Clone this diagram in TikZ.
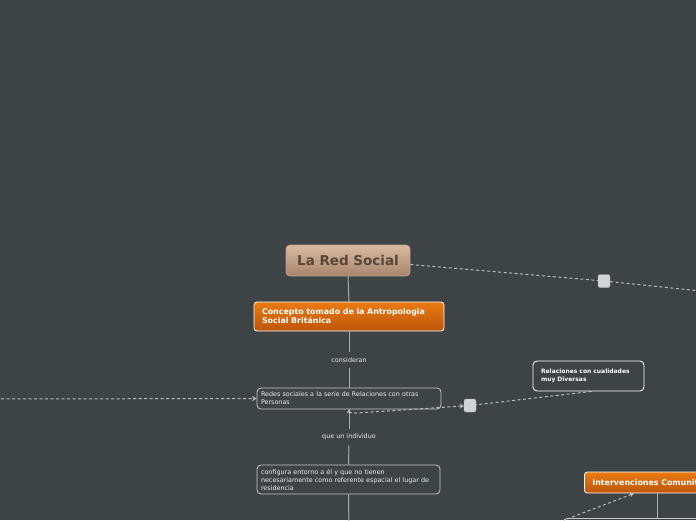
\documentclass[tikz,border=0pt]{standalone}
\usepackage{fontspec}
\setmainfont{DejaVu Sans}
\usetikzlibrary{calc,arrows.meta}
\definecolor{bg}{RGB}{62,67,69}
\definecolor{roottop}{RGB}{218,186,162}
\definecolor{rootbot}{RGB}{168,133,108}
\definecolor{rootborder}{RGB}{190,160,138}
\definecolor{roottext}{RGB}{88,70,56}
\definecolor{otop}{RGB}{234,122,18}
\definecolor{obot}{RGB}{190,86,10}
\definecolor{boxline}{RGB}{200,200,200}
\definecolor{txt}{RGB}{236,236,236}
\definecolor{linecol}{RGB}{170,172,174}
\definecolor{dashcol}{RGB}{185,187,189}
\definecolor{handlefill}{RGB}{210,212,214}
\tikzset{
  rootbox/.style={draw=rootborder, line width=0.8pt, rounded corners=4pt,
    top color=roottop, bottom color=rootbot, minimum width=124pt, minimum height=31pt,
    inner sep=0pt, font=\bfseries\fontsize{13.5}{16}\selectfont, text=roottext},
  orangebox/.style={draw=white, line width=0.8pt, rounded corners=3pt,
    top color=otop, bottom color=obot, text=white, align=left,
    font=\bfseries\fontsize{7.9}{9}\selectfont, inner xsep=8pt, inner ysep=0pt},
  plainbox/.style={draw=boxline, line width=0.8pt, rounded corners=4pt, text=txt,
    align=left, font=\fontsize{6.4}{8}\selectfont, inner xsep=4pt, inner ysep=0pt},
  boldbox/.style={draw=white, line width=0.8pt, rounded corners=4pt, text=white,
    align=left, font=\bfseries\fontsize{6}{8.5}\selectfont, inner xsep=8pt, inner ysep=0pt},
  lbl/.style={font=\fontsize{6.4}{8}\selectfont, text=txt, inner xsep=2pt, inner ysep=5pt},
  handle/.style={fill=handlefill, draw=handlefill!80!black, line width=0.4pt,
    rounded corners=2pt, minimum width=12pt, minimum height=13pt, inner sep=0pt},
  conn/.style={draw=linecol, line width=1pt},
  dconn/.style={draw=dashcol, line width=1pt, dash pattern=on 3pt off 2.5pt},
  tip/.style={-{Stealth[length=4.5pt,width=5pt]}}
}
\begin{document}
\begin{tikzpicture}[x=1pt,y=-1pt]
\fill[bg] (0,0) rectangle (696,520);
\useasboundingbox (0,0) rectangle (696,520);
\clip (0,0) rectangle (696,520);

% nodes
\node[rootbox] (root) at (348,260.5) {La Red Social};
\node[orangebox, minimum width=190pt, minimum height=29pt, text width=174pt] (conc) at (349,316.5)
  {Concepto tomado de la Antropologia\\Social Británica};
\node[lbl] (lab1) at (349,360) {consideran};
\node[plainbox, minimum width=184pt, minimum height=21pt, text width=176pt] (redes) at (349,398.5)
  {Redes sociales a la serie de Relaciones con otras\\Personas};
\node[lbl] (lab2) at (349,437) {que un individuo};
\node[plainbox, minimum width=183pt, minimum height=29pt, text width=175pt] (conf) at (348.5,479.5)
  {configura entorno a él y que no tienen\\necesariamente como referente espacial el lugar de\\residencia};
\node[boldbox, minimum width=111pt, minimum height=30pt, text width=95pt] (rel) at (588.5,376)
  {Relaciones con cualidades\\muy Diversas};
\node[orangebox, anchor=west, minimum width=180pt, minimum height=21pt, text width=164pt] (interv) at (584,482.5)
  {Intervenciones Comunitarias};
\node[plainbox, anchor=north west, minimum width=200pt, minimum height=30pt] (bot) at (563,518) {};
\node[handle] (h1) at (604,281) {};
\node[handle] (h2) at (470,405.5) {};
\coordinate (offR) at (720,293);
\coordinate (offL) at (-10,399);
\coordinate (offB) at (349,530);
\coordinate (bend) at (357,413);

% solid connectors
\draw[conn] (root.south) -- (conc.north);
\draw[conn] (conc.south) -- (lab1.north);
\draw[conn] (lab1.south) -- (redes.north);
\draw[conn] (redes.south) -- (lab2.north);
\draw[conn] (lab2.south) -- (conf.north);
\draw[conn] (conf.south) -- (offB);
\draw[conn] ($(interv.south west)+(73,0)$) -- ($(bot.north west)+(94,0)$);

% dashed connectors
\draw[dconn] ([yshift=-4pt]root.east) -- (h1) -- (offR);
\draw[dconn, tip] (offL) -- (redes.west);
\draw[dconn, {Stealth[length=4pt,width=5pt]}-{Stealth[length=4pt,width=5pt]}]
  ($(rel.south)+(3,0)$) -- (h2) -- (bend) to[out=180,in=-90] (redes.south);
\draw[dconn, tip] ($(bot.north west)+(4,1)$) -- ($(interv.south west)+(50,0)$);
\end{tikzpicture}
\end{document}
